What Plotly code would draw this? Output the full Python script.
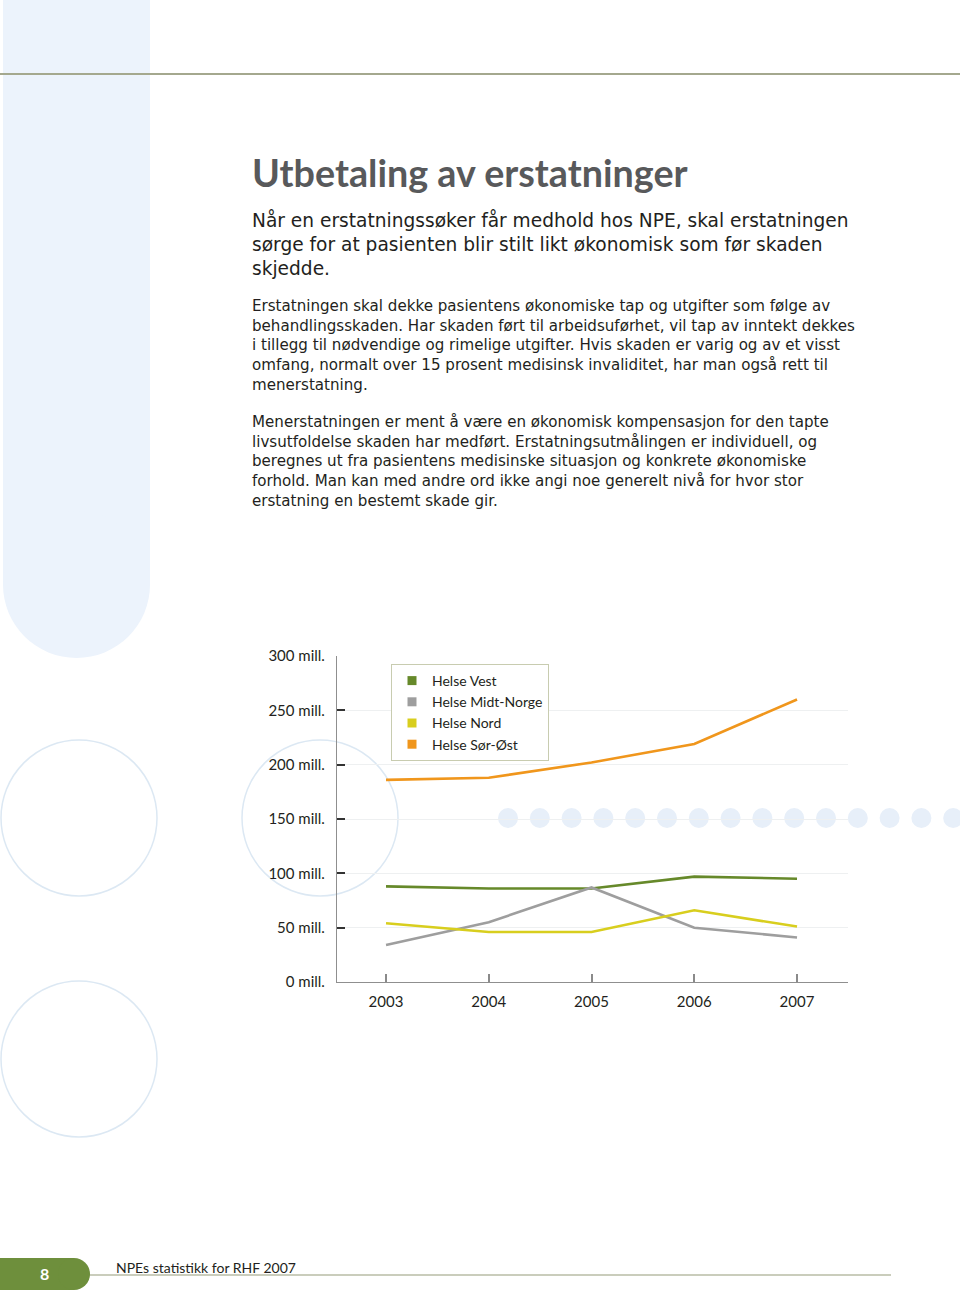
import plotly.graph_objects as go

# ---------------- data ----------------
years = [2003, 2004, 2005, 2006, 2007]
helse_vest = [88, 86, 86, 97, 95]
helse_midt_norge = [34, 55, 87, 50, 41]
helse_nord = [54, 46, 46, 66, 51]
helse_sor_ost = [186, 188, 202, 219, 260]

series_names = ["Helse Vest", "Helse Midt-Norge", "Helse Nord", "Helse Sør-Øst"]
series_values = [helse_vest, helse_midt_norge, helse_nord, helse_sor_ost]
series_colors = ["#66892a", "#9e9e9e", "#d8ce1e", "#f0961c"]

y_tick_values = [0, 50, 100, 150, 200, 250, 300]
y_tick_labels = ["0 mill.", "50 mill.", "100 mill.", "150 mill.", "200 mill.", "250 mill.", "300 mill."]
x_tick_labels = ["2003", "2004", "2005", "2006", "2007"]

title_text = "Utbetaling av erstatninger"
lead_lines = [
    "Når en erstatningssøker får medhold hos NPE, skal erstatningen",
    "sørge for at pasienten blir stilt likt økonomisk som før skaden",
    "skjedde.",
]
body_lines_1 = [
    "Erstatningen skal dekke pasientens økonomiske tap og utgifter som følge av",
    "behandlingsskaden. Har skaden ført til arbeidsuførhet, vil tap av inntekt dekkes",
    "i tillegg til nødvendige og rimelige utgifter. Hvis skaden er varig og av et visst",
    "omfang, normalt over 15 prosent medisinsk invaliditet, har man også rett til",
    "menerstatning.",
]
body_lines_2 = [
    "Menerstatningen er ment å være en økonomisk kompensasjon for den tapte",
    "livsutfoldelse skaden har medført. Erstatningsutmålingen er individuell, og",
    "beregnes ut fra pasientens medisinske situasjon og konkrete økonomiske",
    "forhold. Man kan med andre ord ikke angi noe generelt nivå for hvor stor",
    "erstatning en bestemt skade gir.",
]
footer_text = "NPEs statistikk for RHF 2007"
page_number = "8"

# ---------------- layout helpers ----------------
W, H = 960, 1295
FONT = "Lato"


def px(x):
    return x / W


def py(y):
    return 1 - y / H


fig = go.Figure()

for name, vals, col in zip(series_names, series_values, series_colors):
    fig.add_trace(go.Scatter(
        x=years, y=vals, mode="lines", name=name, legendgroup=name,
        showlegend=False, line=dict(color=col, width=2.6), hoverinfo="x+y+name",
    ))
for name, col in zip(series_names, series_colors):
    fig.add_trace(go.Scatter(
        x=[None], y=[None], mode="markers", name=name, legendgroup=name,
        marker=dict(symbol="square", size=9, color=col), showlegend=True,
    ))

shapes = []
# left light-blue band with rounded bottom
band_col = "#ecf3fc"
shapes.append(dict(type="rect", xref="paper", yref="paper", x0=px(3), x1=px(150),
                   y0=py(585), y1=py(0), fillcolor=band_col, line=dict(width=0), layer="below"))
shapes.append(dict(type="circle", xref="paper", yref="paper", x0=px(3), x1=px(150),
                   y0=py(658), y1=py(511), fillcolor=band_col, line=dict(width=0), layer="below"))
# outline circles
for cx, cy in [(79, 818), (320, 818), (79, 1059)]:
    r = 78
    shapes.append(dict(type="circle", xref="paper", yref="paper", x0=px(cx - r), x1=px(cx + r),
                       y0=py(cy + r), y1=py(cy - r), line=dict(color="#dce8f3", width=1.5),
                       fillcolor="rgba(0,0,0,0)", layer="below"))
# row of dots
for i in range(15):
    cx = 508 + i * 31.8
    r = 10
    shapes.append(dict(type="circle", xref="paper", yref="paper", x0=px(cx - r), x1=px(cx + r),
                       y0=py(818 + r), y1=py(818 - r), fillcolor="#e7eff9", line=dict(width=0),
                       layer="below"))
# top rule
shapes.append(dict(type="line", xref="paper", yref="paper", x0=0, x1=1, y0=py(74), y1=py(74),
                   line=dict(color="#a4a88e", width=2), layer="above"))
# footer rule
shapes.append(dict(type="line", xref="paper", yref="paper", x0=px(88), x1=px(891), y0=py(1275), y1=py(1275),
                   line=dict(color="#b8bda6", width=1.5), layer="above"))
# page badge
badge = "#6e8f3c"
shapes.append(dict(type="rect", xref="paper", yref="paper", x0=0, x1=px(74), y0=py(1290), y1=py(1258),
                   fillcolor=badge, line=dict(width=0), layer="above"))
shapes.append(dict(type="circle", xref="paper", yref="paper", x0=px(58), x1=px(90), y0=py(1290), y1=py(1258),
                   fillcolor=badge, line=dict(width=0), layer="above"))

annotations = []


def add_text(txt, x, y, size, color="#231f20", bold=False, xanchor="left", family=FONT, yanchor="middle"):
    annotations.append(dict(
        text=("<b>%s</b>" % txt) if bold else txt, xref="paper", yref="paper",
        x=px(x), y=py(y), xanchor=xanchor, yanchor=yanchor, showarrow=False, align="left",
        borderpad=0, font=dict(family=family, size=size, color=color),
    ))


LEAD_SIZE = 18.6
BODY_SIZE = 15.1
add_text(title_text, 251, 172, 37.7, color="#58595b", bold=True)
add_text("<br>".join(lead_lines), 251, 220 - LEAD_SIZE * 0.65, LEAD_SIZE,
         family="DejaVu Sans", yanchor="top")
add_text("<br>".join(body_lines_1), 251, 305.5 - BODY_SIZE * 0.65, BODY_SIZE,
         family="DejaVu Sans", yanchor="top")
add_text("<br>".join(body_lines_2), 251, 421.5 - BODY_SIZE * 0.65, BODY_SIZE,
         family="DejaVu Sans", yanchor="top")
add_text(footer_text, 115, 1267, 14)
add_text(page_number, 44, 1273, 16, color="white", bold=True, xanchor="center")

fig.update_layout(
    width=W, height=H,
    margin=dict(l=0, r=0, t=0, b=0, pad=0, autoexpand=False),
    paper_bgcolor="white", plot_bgcolor="rgba(0,0,0,0)",
    shapes=shapes, annotations=annotations,
    showlegend=True,
    legend=dict(
        x=px(391), y=py(664), xanchor="left", yanchor="top",
        bgcolor="white", bordercolor="#c8ccb0", borderwidth=1,
        font=dict(family=FONT, size=14, color="#231f20"),
        itemwidth=30, traceorder="normal",
    ),
    xaxis=dict(
        domain=[px(337), px(848)], range=[2002.523, 2007.496], automargin=False,
        tickvals=years, ticktext=x_tick_labels, ticks="inside", ticklen=8, tickwidth=1.5,
        tickcolor="#8a8a8a", showline=True, linecolor="#8f8f8f", linewidth=1.2,
        showgrid=False, zeroline=False, ticklabelstandoff=6,
        tickfont=dict(family=FONT, size=15, color="#231f20"),
    ),
    yaxis=dict(
        domain=[py(982), py(656)], range=[0, 300], automargin=False,
        tickvals=y_tick_values, ticktext=y_tick_labels, ticks="inside", ticklen=8, tickwidth=2,
        tickcolor="#333333", showline=True, linecolor="#8f8f8f", linewidth=1.2,
        showgrid=True, gridcolor="#eef0f1", gridwidth=1, zeroline=False, ticklabelstandoff=8,
        tickfont=dict(family=FONT, size=15, color="#231f20"),
    ),
)

fig.write_html("out.html", config={"displayModeBar": False},
               post_script="document.body.style.margin='0px';")
